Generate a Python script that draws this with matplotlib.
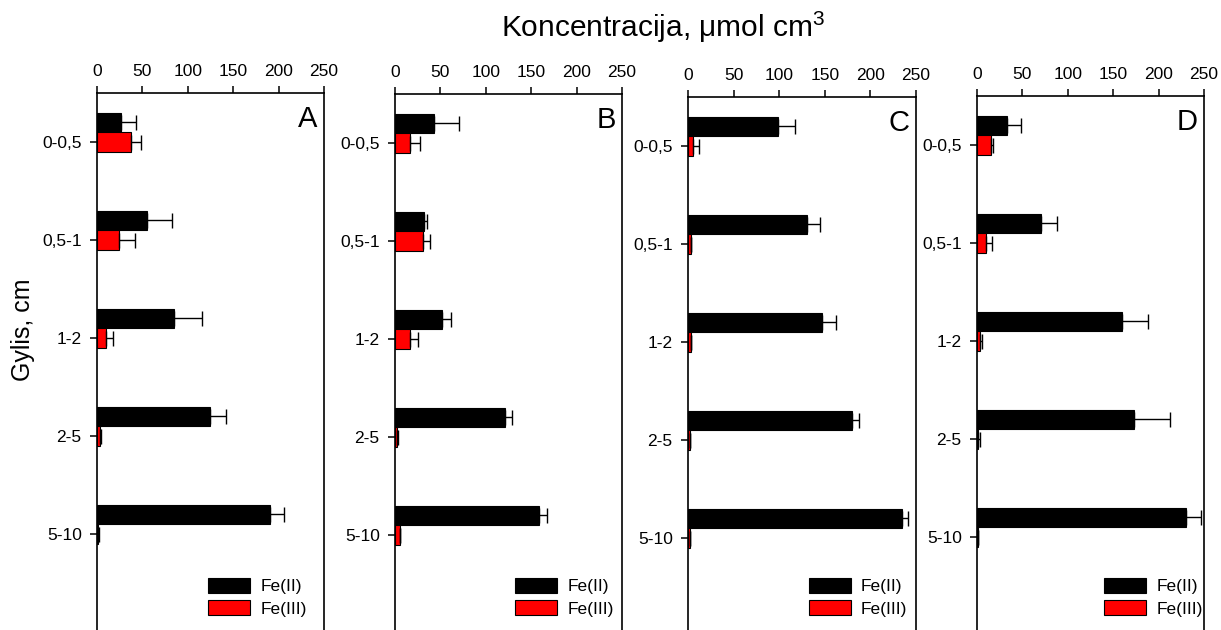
import numpy as np
import matplotlib
matplotlib.use("Agg")
import matplotlib.pyplot as plt

plt.rcParams['font.family'] = ['Liberation Sans', 'DejaVu Sans']
plt.rcParams['mathtext.fontset'] = 'custom'
plt.rcParams['mathtext.rm'] = 'Liberation Sans'

depths = ['0-0,5', '0,5-1', '1-2', '2-5', '5-10']
panels = ['A', 'B', 'C', 'D']

# Fe(II) / Fe(III) concentrations with standard deviations, one list per site
fe2_A = [26, 55, 85, 124, 191]
fe2_A_err = [17, 28, 31, 18, 15]
fe3_A = [37, 24, 10, 3, 1.5]
fe3_A_err = [11, 18, 8, 1, 0.5]

fe2_B = [43, 32, 52, 121, 159]
fe2_B_err = [28, 3, 10, 8, 8]
fe3_B = [16, 31, 17, 2, 5]
fe3_B_err = [12, 7, 8.5, 1, 1]

fe2_C = [99, 130, 147, 180, 235]
fe2_C_err = [18, 15, 15, 8, 6]
fe3_C = [6, 3, 3, 2, 2]
fe3_C_err = [6, 0.5, 0.5, 0.5, 0.5]

fe2_D = [33, 70, 160, 173, 230]
fe2_D_err = [16, 18, 28, 40, 17]
fe3_D = [15, 10, 3, 1, 1]
fe3_D_err = [3, 7, 3, 2, 0.5]

fe2 = [fe2_A, fe2_B, fe2_C, fe2_D]
fe2_err = [fe2_A_err, fe2_B_err, fe2_C_err, fe2_D_err]
fe3 = [fe3_A, fe3_B, fe3_C, fe3_D]
fe3_err = [fe3_A_err, fe3_B_err, fe3_C_err, fe3_D_err]

W, H = 1221, 630
fig = plt.figure(figsize=(W / 100, H / 100), dpi=100)

# panel frames in pixels: left, right, top
frames = [(97, 324, 93), (395, 622, 94), (688, 916, 97), (977, 1204, 96)]
legend_x = [0.49, 0.53, 0.53, 0.56]

y = np.arange(len(depths))
bh = 0.2
fs = 12.5

for i, (l, r, t) in enumerate(frames):
    ax = fig.add_axes([l / W, 0, (r - l) / W, 1 - t / H])
    bottom_units = -0.5 + (H - t) / 98.0
    zeros = [0] * len(depths)
    ax.barh(y - bh, fe2[i], height=bh, color='black', edgecolor='black',
            linewidth=0.8, label='Fe(II)')
    ax.barh(y, fe3[i], height=bh, color='#ff0000', edgecolor='black',
            linewidth=0.8, label='Fe(III)')
    ax.errorbar(fe2[i], y - bh, xerr=[zeros, fe2_err[i]], fmt='none',
                ecolor='black', elinewidth=1.0, capsize=5.4, capthick=1.0)
    ax.errorbar(fe3[i], y, xerr=[zeros, fe3_err[i]], fmt='none',
                ecolor='black', elinewidth=1.0, capsize=5.4, capthick=1.0)

    ax.set_xlim(0, 250)
    ax.set_ylim(bottom_units, -0.5)
    ax.set_xticks([0, 50, 100, 150, 200, 250])
    ax.set_yticks(y)
    ax.set_yticklabels(depths)
    ax.xaxis.tick_top()
    ax.tick_params(axis='x', direction='out', length=5, width=1.1, pad=5,
                   labelsize=fs)
    ax.tick_params(axis='y', direction='out', length=5, width=1.1, pad=6,
                   labelsize=fs)
    ax.spines['bottom'].set_visible(False)
    for s in ['left', 'right', 'top']:
        ax.spines[s].set_linewidth(1.2)

    ax.text(0.972, 0.978, panels[i], transform=ax.transAxes, ha='right',
            va='top', fontsize=21)

    ax.legend(loc='lower left', bbox_to_anchor=(legend_x[i], 0.025),
              frameon=False, fontsize=fs, handlelength=2.4, handleheight=0.95,
              handletextpad=0.6, labelspacing=0.35, borderpad=0,
              borderaxespad=0)

fig.text(663 / W, 1 - 27 / H, 'Koncentracija, μmol cm$^{3}$', ha='center',
         va='center', fontsize=21.5)
fig.text(23 / W, 1 - 330 / H, 'Gylis, cm', ha='center', va='center',
         rotation=90, fontsize=18)

fig.savefig('out.png', dpi=100)
